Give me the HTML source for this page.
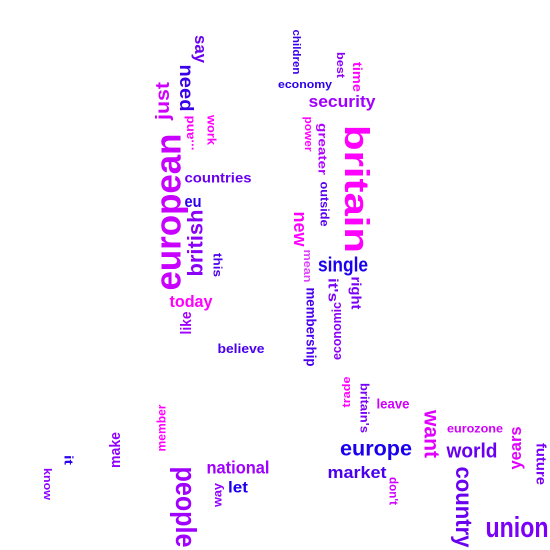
<!DOCTYPE html>
<html><head><meta charset="utf-8"><style>
html,body{margin:0;padding:0;background:#fff;}
svg{display:block;}
text{font-family:"Liberation Sans",sans-serif;font-weight:bold;}
</style></head><body>
<svg id="cloud" width="550" height="550" viewBox="0 0 550 550"></svg>
<script>
const words = ["say","need","just","...and","work","european","countries","eu","british","this","today","like","believe",
"children","best","time","economy","security","power","greater","outside","britain","new","single","mean","right","it's","membership","economic",
"know","it","make","member","people","national","way","let","trade","britain's","leave","want","eurozone","europe","world","years","future","market","don't","country","union"];
const cx = [200,186,163,190,211,168,218,193,195,217,191,187,241,
296,340,357,305,342,308,322,324,356,300,343,307,356,333,311,337,
47,68,116,162,185,238,218,238,347,364,393,432,475,376,472,516,541,357,393,464,517];
const cy = [49,88,101,133,130,212,178,202,243,265,302,323,349,
52,65,77,85,102,134,149,204,189,229,265,266,293,290,327,331,
484,460,450,428,507,468,495,488,392,408,404,434,429,448,451,448,464,473,491,507,528];
const lens = [28,47,38,35,30,157,67,17,67,24,43,23,47,
45,26,30,54,67,35,52,45,128,35,50,33,33,24,79,58,
32,10,36,47,81,63,24,20,31,50,33,48,56,72,51,43,42,59,28,81,63];
const sizes = [18,22,22,13,13,40,15,18,24,13,18,16,14,
12,12,14,12,18,12,13,13,38,20,23,12,15,15,15,14,
12,13,16,13,32,19,13,17,12,13,15,24,13,24,23,18,15,18,13,26,32];
const rot = [90,90,-90,-90,90,-90,0,0,-90,90,0,-90,0,
90,90,90,0,0,90,90,90,90,90,0,90,90,90,90,-90,
90,90,-90,-90,90,0,-90,0,-90,90,0,90,0,0,0,-90,90,0,90,90,0];
const colors = ["#6a00f0","#3a00e8","#d000ff","#ff00ff","#ff00ff","#c800ff","#6a00f0","#2a00ee","#8a00f8","#4a00ee","#ff00ff","#a000ff","#4a00ee",
"#3a00e8","#8a00f8","#ff00ff","#2a00ee","#a000ff","#ff00ff","#b000ff","#5a00f0","#ff00ff","#ff00ff","#1a00ee","#e040ff","#7a00f8","#7a00f8","#4a00ee","#8a00f8",
"#9000ff","#2a00ee","#9000ff","#ff00ff","#a000ff","#a000ff","#9000ff","#1a00ee","#ff00ff","#7a00f8","#d000ff","#e000ff","#d000ff","#1a00ee","#6a00f0","#e000ff","#7a00f8","#4a00ee","#d000ff","#6a00f0","#7a00f8"];
const svg = document.getElementById('cloud');
const NS = "http://www.w3.org/2000/svg";
for (let i = 0; i < words.length; i++) {
  const t = document.createElementNS(NS, 'text');
  
  
  t.setAttribute('x', cx[i]);
  t.setAttribute('y', cy[i]);
  t.setAttribute('text-anchor', 'middle');
  t.setAttribute('dominant-baseline', 'central');
  t.setAttribute('font-size', (sizes[i] * 0.9).toFixed(1));
  t.setAttribute('fill', colors[i]);
  t.setAttribute('textLength', lens[i]);
  t.setAttribute('lengthAdjust', 'spacingAndGlyphs');
  if (rot[i]) t.setAttribute('transform', 'rotate(' + rot[i] + ' ' + cx[i] + ' ' + cy[i] + ')');
  t.textContent = words[i];
  svg.appendChild(t);
}
</script>
</body></html>
